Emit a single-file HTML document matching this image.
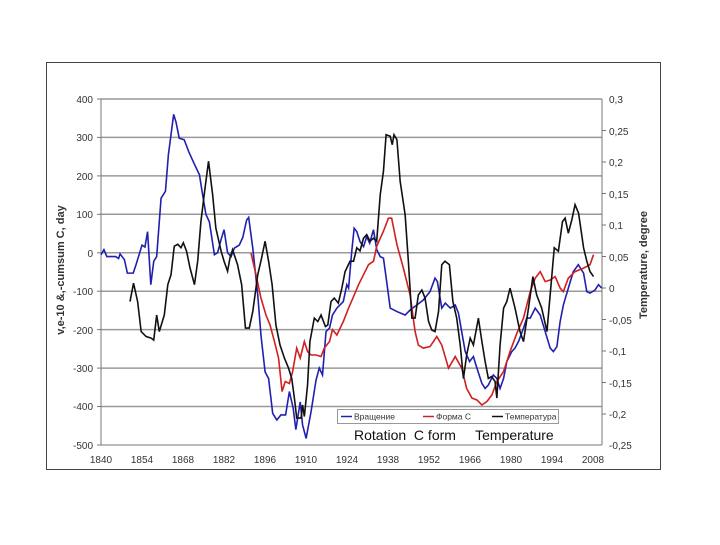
<!DOCTYPE html>
<html><head><meta charset="utf-8"><style>
body{margin:0;background:#fff;width:720px;height:540px;overflow:hidden}
text{font-family:"Liberation Sans",sans-serif;fill:#333}
</style></head><body>
<svg width="720" height="540" xmlns="http://www.w3.org/2000/svg">
<rect x="46.5" y="62.5" width="614" height="407" fill="#fff" stroke="#444" stroke-width="1"/>
<g stroke="#999" stroke-width="1.5">
<line x1="101" y1="99" x2="602" y2="99"/>
<line x1="101" y1="137.4" x2="602" y2="137.4"/>
<line x1="101" y1="175.9" x2="602" y2="175.9"/>
<line x1="101" y1="214.3" x2="602" y2="214.3"/>
<line x1="101" y1="252.8" x2="602" y2="252.8"/>
<line x1="101" y1="291.2" x2="602" y2="291.2"/>
<line x1="101" y1="329.6" x2="602" y2="329.6"/>
<line x1="101" y1="368.1" x2="602" y2="368.1"/>
<line x1="101" y1="406.5" x2="602" y2="406.5"/>
</g>
<g stroke="#777" stroke-width="1">
<line x1="101" y1="99" x2="101" y2="445"/>
<line x1="602" y1="99" x2="602" y2="445"/>
<line x1="101" y1="445" x2="602" y2="445"/>
</g>
<g stroke="#777" stroke-width="1">
<line x1="97" y1="99" x2="101" y2="99"/><line x1="97" y1="137.4" x2="101" y2="137.4"/><line x1="97" y1="175.9" x2="101" y2="175.9"/><line x1="97" y1="214.3" x2="101" y2="214.3"/><line x1="97" y1="252.8" x2="101" y2="252.8"/><line x1="97" y1="291.2" x2="101" y2="291.2"/><line x1="97" y1="329.6" x2="101" y2="329.6"/><line x1="97" y1="368.1" x2="101" y2="368.1"/><line x1="97" y1="406.5" x2="101" y2="406.5"/><line x1="97" y1="445" x2="101" y2="445"/>
<line x1="602" y1="130.5" x2="606" y2="130.5"/><line x1="602" y1="162" x2="606" y2="162"/><line x1="602" y1="193.5" x2="606" y2="193.5"/><line x1="602" y1="225" x2="606" y2="225"/><line x1="602" y1="256.5" x2="606" y2="256.5"/><line x1="602" y1="288" x2="606" y2="288"/><line x1="602" y1="319.5" x2="606" y2="319.5"/><line x1="602" y1="351" x2="606" y2="351"/><line x1="602" y1="382.5" x2="606" y2="382.5"/><line x1="602" y1="414" x2="606" y2="414"/>
</g>
<g font-size="10" text-anchor="end">
<text x="93" y="103">400</text><text x="93" y="141">300</text><text x="93" y="180">200</text><text x="93" y="218">100</text><text x="93" y="257">0</text><text x="93" y="295">-100</text><text x="93" y="334">-200</text><text x="93" y="372">-300</text><text x="93" y="410">-400</text><text x="93" y="449">-500</text>
</g>
<g font-size="10">
<text x="609" y="103">0,3</text><text x="609" y="135">0,25</text><text x="609" y="166">0,2</text><text x="609" y="198">0,15</text><text x="609" y="229">0,1</text><text x="609" y="261">0,05</text><text x="609" y="292">0</text><text x="609" y="324">-0,05</text><text x="609" y="355">-0,1</text><text x="609" y="387">-0,15</text><text x="609" y="418">-0,2</text><text x="609" y="449">-0,25</text>
</g>
<g font-size="10" text-anchor="middle">
<text x="101" y="463">1840</text><text x="142" y="463">1854</text><text x="183" y="463">1868</text><text x="224" y="463">1882</text><text x="265" y="463">1896</text><text x="306" y="463">1910</text><text x="347" y="463">1924</text><text x="388" y="463">1938</text><text x="429" y="463">1952</text><text x="470" y="463">1966</text><text x="511" y="463">1980</text><text x="552" y="463">1994</text><text x="593" y="463">2008</text>
</g>
<text font-size="11" font-weight="bold" text-anchor="middle" transform="translate(64,270) rotate(-90)">v,e-10 &amp;,-cumsum C, day</text>
<text font-size="11" font-weight="bold" text-anchor="middle" transform="translate(647,265) rotate(-90)">Temperature, degree</text>
<g fill="none" stroke-width="1.6" transform="matrix(2.93 0 0 -0.3844 -5290.2 252.76)">
<polyline vector-effect="non-scaling-stroke" stroke="#2020b0" points="1840,-5 1841,8 1842,-10 1845,-10 1846,-15 1846.5,-3 1848,-18 1849,-53 1851,-53 1852,-30 1854,20 1855,15 1855.9,55 1857,-83 1858,-22 1859,-10 1860.5,142 1862,160 1863,255 1864.8,360 1865.6,340 1866.7,298 1868.4,294 1870,262 1871.9,230 1873.6,203 1874.7,150 1875.8,100 1877,80 1878.7,-5 1879.8,0 1881,35 1882,60 1883.2,0 1884.4,-10 1885.5,12 1887.2,20 1888.4,40 1889.7,85 1890.4,92 1891.8,12 1893.5,-110 1894.6,-215 1896,-310 1897.2,-327 1898.6,-418 1900,-435 1901.4,-422 1903,-422 1904.3,-361 1905.6,-405 1906.5,-460 1908,-388 1908.8,-448 1910,-483 1911.7,-413 1913.4,-331 1914.5,-300 1915.6,-318 1916.8,-205 1918,-196 1919,-162 1920.5,-144 1922.7,-127 1923.9,-83 1924.5,-92 1925.6,5 1926.4,64 1927.3,55 1928.4,29 1929.6,16 1930.7,42 1931.7,25 1933,60 1934.1,8 1935.3,-10 1936.4,-14 1937.5,-75 1938.7,-144 1941,-153 1943.8,-162 1945.5,-149 1947.8,-136 1950,-123 1952.3,-101 1954,-66 1954.8,-75 1956.3,-144 1957.5,-131 1959.2,-144 1960.9,-136 1962,-157 1963.1,-205 1964.3,-257 1965.8,-283 1967.1,-270 1968.3,-300 1970,-340 1971.1,-353 1972.2,-344 1973.9,-318 1975.1,-327 1976.2,-353 1977.4,-327 1978.5,-283 1980.2,-257 1981.3,-248 1982.5,-231 1984.2,-196 1985.3,-170 1986.5,-170 1988.2,-144 1989.9,-162 1991.6,-205 1993.3,-248 1994.4,-257 1995.6,-244 1996.7,-179 1997.8,-136 1999.5,-92 2001.2,-49 2002.9,-31 2004.7,-53 2005.8,-101 2006.9,-105 2008.6,-97 2009.8,-83 2010.9,-92"/>
<polyline vector-effect="non-scaling-stroke" stroke="#d02020" points="1891.2,-1 1892.9,-57 1894.6,-118 1896.3,-162 1897.7,-188 1899.2,-231 1900.6,-274 1901.8,-361 1902.9,-335 1904.3,-340 1905.4,-309 1906.8,-248 1908,-274 1909.4,-231 1910.5,-257 1911.7,-266 1913.4,-266 1915.1,-270 1916.2,-248 1918,-231 1919,-200 1920.5,-214 1922.7,-179 1924.5,-144 1926.2,-114 1927.9,-83 1929.6,-57 1931.3,-31 1933,-22 1934.1,17 1936.4,56 1938.1,90 1939.2,90 1941,21 1943.2,-40 1945.5,-110 1947.2,-205 1948.3,-240 1950,-248 1952.3,-244 1954.6,-218 1956.3,-240 1958.6,-300 1960.9,-270 1963.1,-300 1964.8,-353 1966.6,-378 1968.3,-383 1970,-396 1971.7,-387 1973.4,-370 1975.1,-335 1977.4,-309 1979.6,-257 1981.9,-210 1984.2,-170 1986.5,-101 1988.2,-66 1989.9,-49 1991.6,-75 1993.3,-71 1995,-62 1996.7,-92 1997.8,-101 1999.5,-66 2001.8,-49 2004.7,-40 2006.9,-31 2008.1,-5"/>
<polyline vector-effect="non-scaling-stroke" stroke="#111" points="1849.9,-127 1851.1,-79 1852.5,-127 1853.7,-205 1855.4,-218 1857.1,-222 1858,-227 1859,-162 1859.9,-205 1861.6,-162 1862.8,-83 1863.9,-57 1865,17 1866.2,22 1867.3,13 1868.1,26 1869.2,4 1870.4,-40 1871.9,-83 1873,-22 1874.1,81 1875.5,168 1876.7,238 1878.1,151 1879.2,64 1881,4 1882,-22 1883.2,-48 1884,-14 1884.9,8 1886.6,-31 1888,-83 1889.3,-196 1890.6,-196 1891.8,-153 1893.5,-57 1894.8,-14 1896,30 1897.2,-22 1898.4,-83 1899.7,-188 1901.1,-240 1902.6,-274 1904,-300 1905.1,-327 1906,-378 1906.8,-430 1908.3,-430 1908.8,-396 1909.4,-426 1910.5,-344 1911.3,-231 1912.8,-170 1914,-179 1915.1,-162 1916.6,-192 1917.4,-188 1918.5,-127 1919.6,-118 1921,-131 1922.2,-92 1923.3,-49 1925,-22 1926.2,-22 1927.3,13 1928.4,5 1929.6,38 1930.7,47 1931.8,30 1933,38 1934.1,30 1935.3,151 1936.4,212 1937.3,307 1938.7,303 1939.4,281 1940,307 1941,294 1942.1,186 1943.8,99 1944.9,-22 1946.1,-170 1947.2,-170 1948.3,-110 1949.5,-97 1950.6,-118 1951.8,-179 1952.9,-201 1954,-205 1955.2,-153 1956.3,-31 1957.4,-22 1958.9,-31 1960.1,-127 1961.4,-170 1962.6,-240 1963.7,-327 1964.8,-266 1966,-222 1967.1,-240 1968.8,-170 1970,-231 1971.1,-283 1972.2,-327 1973.3,-322 1974.5,-335 1975.1,-378 1976.2,-240 1977.4,-144 1978.5,-127 1979.6,-92 1981.3,-144 1983,-205 1984.2,-231 1985.9,-144 1987.4,-62 1988.7,-110 1990.4,-144 1992.2,-205 1993.5,-92 1994.7,13 1996.1,4 1997.5,81 1998.4,90 1999.5,51 2000.7,86 2001.8,125 2003,103 2004.7,13 2005.8,-22 2006.9,-49 2008.1,-62"/>
</g>
<rect x="337.5" y="409.5" width="221" height="14" fill="#fff" stroke="#999"/>
<g font-size="8.5">
<line x1="341" y1="416.5" x2="352" y2="416.5" stroke="#2020b0" stroke-width="1.5"/><text x="354" y="419.5">Вращение</text>
<line x1="423" y1="416.5" x2="434" y2="416.5" stroke="#d02020" stroke-width="1.5"/><text x="436" y="419.5">Форма С</text>
<line x1="492" y1="416.5" x2="503" y2="416.5" stroke="#111" stroke-width="1.5"/><text x="505" y="419.5">Температура</text>
</g>
<text x="354" y="440" font-size="14" style="fill:#111;white-space:pre" xml:space="preserve">Rotation  C form     Temperature</text>
</svg>
</body></html>
